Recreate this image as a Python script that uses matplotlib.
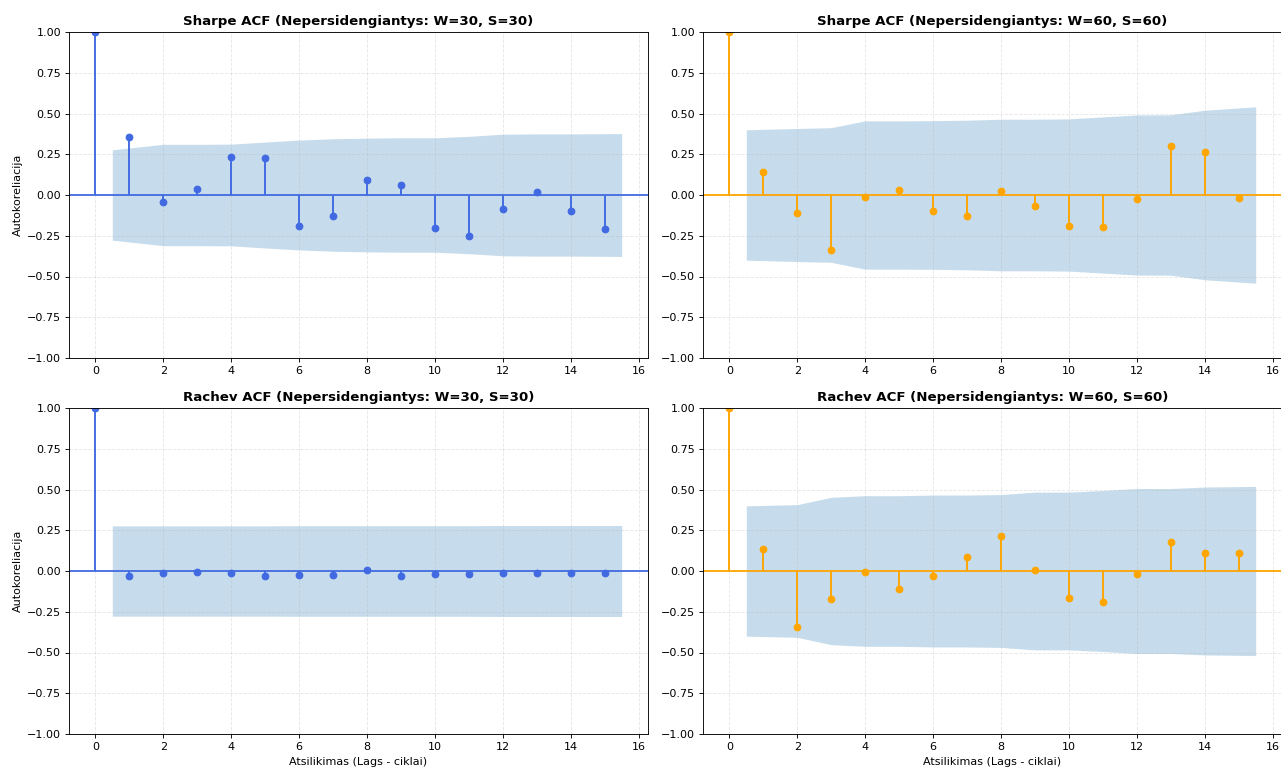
import numpy as np
import matplotlib
matplotlib.use("Agg")
import matplotlib.pyplot as plt

lags = list(range(16))

sharpe_30 = [1.0, 0.358, -0.045, 0.035, 0.233, 0.227, -0.190, -0.131, 0.094, 0.059,
             -0.200, -0.250, -0.086, 0.018, -0.096, -0.210]
sharpe_60 = [1.0, 0.143, -0.110, -0.339, -0.010, 0.029, -0.096, -0.131, 0.025, -0.066,
             -0.190, -0.196, -0.027, 0.299, 0.262, -0.020]
rachev_30 = [1.0, -0.029, -0.014, -0.008, -0.014, -0.029, -0.025, -0.025, 0.005, -0.033,
             -0.020, -0.020, -0.014, -0.014, -0.014, -0.014]
rachev_60 = [1.0, 0.135, -0.345, -0.172, -0.008, -0.108, -0.029, 0.086, 0.215, 0.006,
             -0.168, -0.192, -0.020, 0.176, 0.110, 0.110]

# half-width of 95% confidence band for lags 1..15
band_sharpe_30 = [0.277, 0.311, 0.311, 0.312, 0.325, 0.337, 0.345, 0.349, 0.351, 0.351,
                  0.360, 0.373, 0.375, 0.375, 0.377]
band_sharpe_60 = [0.400, 0.408, 0.413, 0.455, 0.455, 0.456, 0.459, 0.465, 0.465, 0.467,
                  0.479, 0.491, 0.492, 0.520, 0.541]
band_rachev_30 = [0.277, 0.277, 0.277, 0.277, 0.277, 0.278, 0.278, 0.278, 0.278, 0.278,
                  0.278, 0.279, 0.279, 0.279, 0.279]
band_rachev_60 = [0.400, 0.407, 0.452, 0.462, 0.462, 0.466, 0.466, 0.469, 0.484, 0.484,
                  0.494, 0.506, 0.506, 0.515, 0.519]

titles = ["Sharpe ACF (Nepersidengiantys: W=30, S=30)",
          "Sharpe ACF (Nepersidengiantys: W=60, S=60)",
          "Rachev ACF (Nepersidengiantys: W=30, S=30)",
          "Rachev ACF (Nepersidengiantys: W=60, S=60)"]
series = [sharpe_30, sharpe_60, rachev_30, rachev_60]
bands = [band_sharpe_30, band_sharpe_60, band_rachev_30, band_rachev_60]
colors = ["royalblue", "orange", "royalblue", "orange"]

W, H = 1281, 769
DPI = 80
fig = plt.figure(figsize=(W / DPI, H / DPI), dpi=DPI)

boxes = [(69, 32, 648, 358), (703, 32, 1282, 358),
         (69, 408, 648, 734), (703, 408, 1282, 734)]

for i in range(4):
    x0, y0, x1, y1 = boxes[i]
    ax = fig.add_axes([x0 / W, 1 - y1 / H, (x1 - x0) / W, (y1 - y0) / H])
    acf = np.array(series[i])
    c = colors[i]
    band = np.array(bands[i])
    bx = np.array(lags[1:], dtype=float)
    bx[0] -= 0.5
    bx[-1] += 0.5
    ax.fill_between(bx, -band, band, color="C0", alpha=0.25, linewidth=0)
    ax.vlines(lags, 0, acf, colors=c, linewidth=1.7)
    ax.axhline(0, color=c, linewidth=1.6)
    ax.plot(lags, acf, marker="o", markersize=6, linestyle="None", color=c)
    ax.set_ylim(-1, 1)
    ax.set_yticks(np.arange(-1, 1.01, 0.25))
    ax.set_xticks(range(0, 17, 2))
    ax.grid(True, linestyle="--", alpha=0.3)
    ax.set_title(titles[i], fontsize=12, fontweight="bold")
    if i % 2 == 0:
        ax.set_ylabel("Autokoreliacija")
    if i >= 2:
        ax.set_xlabel("Atsilikimas (Lags - ciklai)", labelpad=5)

fig.savefig("out.png", dpi=DPI)
